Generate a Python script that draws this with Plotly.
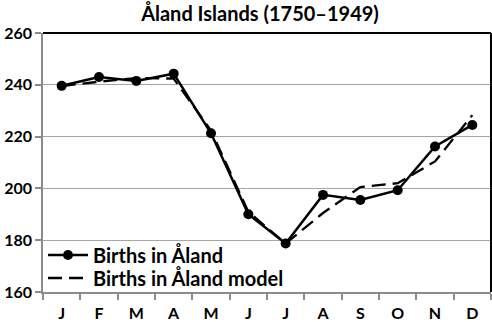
import plotly.graph_objects as go

months = ["J", "F", "M", "A", "M", "J", "J", "A", "S", "O", "N", "D"]
births = [239.6, 243.0, 241.5, 244.3, 221.3, 190.0, 178.7, 197.5, 195.5, 199.3, 216.2, 224.5]
model = [239.5, 241.2, 242.6, 242.4, 222.3, 191.0, 178.7, 190.5, 200.5, 202.0, 210.4, 228.3]
y_ticks = [160, 180, 200, 220, 240, 260]

x = list(range(len(months)))
font_family = "Lato, 'Open Sans', sans-serif"

fig = go.Figure()
fig.add_trace(go.Scatter(
    x=x, y=births, name="<b>Births in Åland</b>", mode="lines+markers",
    line=dict(color="black", width=2.5),
    marker=dict(symbol="circle", size=10, color="black"),
    legend="legend",
))
fig.add_trace(go.Scatter(
    x=x, y=model, name="<b>Births in Åland model</b>", mode="lines",
    line=dict(color="black", width=2.3, dash="14px,7px"),
    legend="legend2",
))

legend_common = dict(xanchor="left", yanchor="middle", bgcolor="rgba(0,0,0,0)",
                     font=dict(size=20, family=font_family), itemwidth=40)

fig.update_layout(
    width=492, height=322,
    margin=dict(l=43, r=1, t=33, b=30, autoexpand=False),
    paper_bgcolor="white", plot_bgcolor="white",
    font=dict(family=font_family, color="black"),
    title=dict(text="<b>Åland Islands (1750–1949)</b>", x=260/492, xanchor="center",
               y=1 - 14/322, yanchor="middle", font=dict(size=20, family=font_family)),
    showlegend=True,
    legend=dict(x=0.0, y=(292 - 255) / 259, **legend_common),
    legend2=dict(x=0.0, y=(292 - 278) / 259, **legend_common),
    xaxis=dict(
        range=[-0.5, 11.5], tickmode="array", tickvals=x, ticktext=[f"<b>{m}</b>" for m in months],
        ticks="", showgrid=False, zeroline=False,
        showline=True, linecolor="#8c8c8c", linewidth=1.5,
        tickfont=dict(size=16, family=font_family),
        minor=dict(tickmode="linear", tick0=-0.5, dtick=1, ticks="outside", ticklen=6,
                   tickcolor="#8c8c8c", tickwidth=1.5, showgrid=False),
        ticklabelstandoff=6,
    ),
    yaxis=dict(
        range=[160, 260], tickmode="array", tickvals=y_ticks,
        ticktext=[f"<b>{v}</b>" for v in y_ticks],
        ticks="outside", ticklen=6, tickcolor="#8c8c8c", tickwidth=1.5,
        showgrid=True, gridcolor="#a6a6a6", gridwidth=1.3, zeroline=False,
        showline=True, linecolor="#8c8c8c", linewidth=1.5,
        tickfont=dict(size=16, family=font_family),
    ),
)

# top and right black borders of the plot area
fig.add_shape(type="line", xref="x domain", yref="y domain", x0=0, x1=1, y0=1, y1=1,
              line=dict(color="black", width=2))
fig.add_shape(type="line", xref="x domain", yref="y domain", x0=1, x1=1, y0=0, y1=1,
              line=dict(color="black", width=2))

fig.write_html("out.html", config={"displayModeBar": False},
               post_script="document.body.style.margin='0';")
